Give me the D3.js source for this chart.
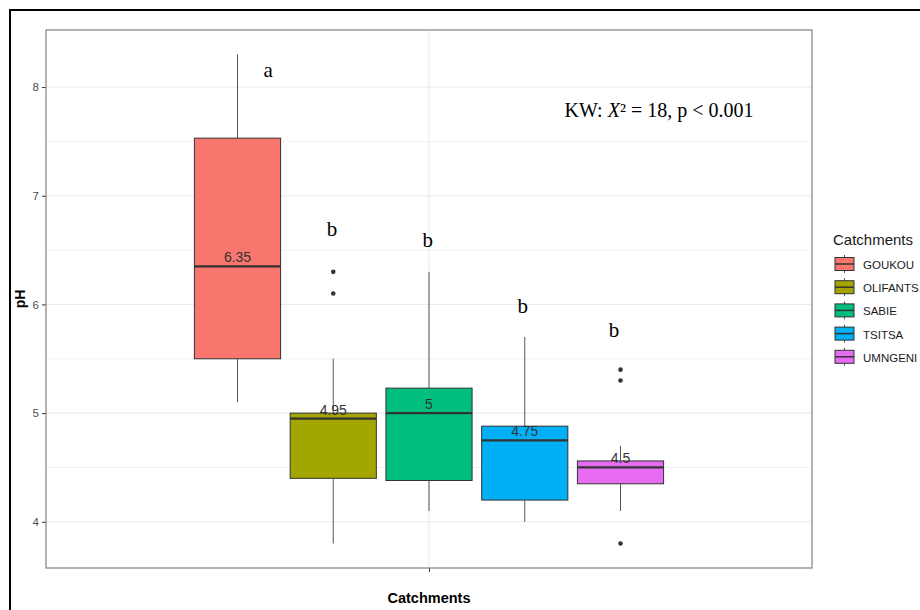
<!DOCTYPE html>
<html>
<head>
<meta charset="utf-8">
<script src="https://cdn.jsdelivr.net/npm/d3@7"></script>
<style>
  body { margin: 0; background: #fff; }
</style>
</head>
<body>
<div id="viz"></div>
<script>
"use strict";

// data
const catchments   = ["GOUKOU", "OLIFANTS", "SABIE", "TSITSA", "UMNGENI"];
const colors       = ["#F8766D", "#A3A500", "#00BF7D", "#00B0F6", "#E76BF3"];
const lowWhisker   = [5.1, 3.8, 4.1, 4.0, 4.1];
const q1           = [5.5, 4.4, 4.38, 4.2, 4.35];
const medians      = [6.35, 4.95, 5.0, 4.75, 4.5];
const q3           = [7.53, 5.0, 5.23, 4.88, 4.56];
const highWhisker  = [8.3, 5.5, 6.3, 5.7, 4.7];
const outliers     = [[], [6.3, 6.1], [], [], [5.4, 5.3, 3.8]];
const medianLabels = ["6.35", "4.95", "5", "4.75", "4.5"];
const letters      = ["a", "b", "b", "b", "b"];
const letterX      = [0.748, 0.848, 0.998, 1.147, 1.29];
const letterY      = [8.09, 6.63, 6.53, 5.92, 5.70];
const yTicks       = [4, 5, 6, 7, 8];
const yMinorTicks  = [4.5, 5.5, 6.5, 7.5];

function initChart(){

    let width = 920;
    let height = 610;
    let left = 46, right = 812, top = 30, bottom = 568;

    let svg = d3.select('#viz')
                .append('svg')
                .attr('width', width)
                .attr('height', height);

    // outer frame
    svg.append('rect')
       .attr('x', 10).attr('y', 10)
       .attr('width', 940).attr('height', 640)
       .attr('fill', 'none')
       .attr('stroke', '#000')
       .attr('stroke-width', 2);

    // x: one discrete position, dodged by catchment
    let xScale = d3.scaleLinear()
                   .domain([0.4, 1.6])
                   .range([left, right]);

    let band = d3.scaleBand()
                 .domain(catchments)
                 .range([xScale(0.625), xScale(1.375)])
                 .paddingInner(0.1)
                 .paddingOuter(0.05);

    let yScale = d3.scaleLinear()
                   .domain([3.575, 8.525])
                   .range([bottom, top]);

    // grid
    svg.selectAll('line.minor')
       .data(yMinorTicks)
       .enter()
       .append('line')
       .attr('x1', left).attr('x2', right)
       .attr('y1', d => yScale(d)).attr('y2', d => yScale(d))
       .attr('stroke', '#f2f2f2')
       .attr('stroke-width', 1);

    svg.selectAll('line.major')
       .data(yTicks)
       .enter()
       .append('line')
       .attr('x1', left).attr('x2', right)
       .attr('y1', d => yScale(d)).attr('y2', d => yScale(d))
       .attr('stroke', '#ebebeb')
       .attr('stroke-width', 1.1);

    svg.append('line')
       .attr('x1', xScale(1)).attr('x2', xScale(1))
       .attr('y1', top).attr('y2', bottom)
       .attr('stroke', '#ebebeb')
       .attr('stroke-width', 1.1);

    // y axis
    let yAxis = d3.axisLeft(yScale)
                  .tickValues(yTicks)
                  .tickSize(4)
                  .tickPadding(3)
                  .tickFormat(d3.format('d'));

    let gy = svg.append('g')
                .attr('transform', `translate(${left},0)`)
                .call(yAxis);
    gy.select('.domain').remove();
    gy.selectAll('line').attr('stroke', '#333');
    gy.selectAll('text')
      .attr('font-family', 'Liberation Sans, Arial, sans-serif')
      .attr('font-size', '11.5px')
      .attr('fill', '#4d4d4d');

    // x axis: single blank tick
    let xAxis = d3.axisBottom(xScale)
                  .tickValues([1])
                  .tickSize(4)
                  .tickFormat('');

    let gx = svg.append('g')
                .attr('transform', `translate(0,${bottom})`)
                .call(xAxis);
    gx.select('.domain').remove();
    gx.selectAll('line').attr('stroke', '#333');

    // boxes
    let boxes = svg.selectAll('g.box')
                   .data(catchments)
                   .enter()
                   .append('g')
                   .attr('class', 'box');

    boxes.append('rect')
         .attr('x', d => band(d))
         .attr('width', band.bandwidth())
         .attr('y', (d, i) => yScale(q3[i]))
         .attr('height', (d, i) => yScale(q1[i]) - yScale(q3[i]))
         .attr('fill', (d, i) => colors[i])
         .attr('stroke', '#333')
         .attr('stroke-width', 1);

    boxes.append('line')
         .attr('x1', d => band(d))
         .attr('x2', d => band(d) + band.bandwidth())
         .attr('y1', (d, i) => yScale(medians[i]))
         .attr('y2', (d, i) => yScale(medians[i]))
         .attr('stroke', '#333')
         .attr('stroke-width', 2.2);

    // median labels
    svg.selectAll('text.med')
       .data(catchments)
       .enter()
       .append('text')
       .text((d, i) => medianLabels[i])
       .attr('x', d => band(d) + band.bandwidth() / 2)
       .attr('y', (d, i) => yScale(medians[i]) - 4)
       .attr('text-anchor', 'middle')
       .attr('font-family', 'Liberation Sans, Arial, sans-serif')
       .attr('font-size', '14px')
       .attr('fill', '#333');

    // whiskers
    boxes.append('line')
         .attr('x1', d => band(d) + band.bandwidth() / 2)
         .attr('x2', d => band(d) + band.bandwidth() / 2)
         .attr('y1', (d, i) => yScale(q3[i]))
         .attr('y2', (d, i) => yScale(highWhisker[i]))
         .attr('stroke', '#555')
         .attr('stroke-width', 1);

    boxes.append('line')
         .attr('x1', d => band(d) + band.bandwidth() / 2)
         .attr('x2', d => band(d) + band.bandwidth() / 2)
         .attr('y1', (d, i) => yScale(q1[i]))
         .attr('y2', (d, i) => yScale(lowWhisker[i]))
         .attr('stroke', '#555')
         .attr('stroke-width', 1);

    // outliers
    boxes.selectAll('circle')
         .data((d, i) => outliers[i].map(v => ({ name: d, v: v })))
         .enter()
         .append('circle')
         .attr('cx', d => band(d.name) + band.bandwidth() / 2)
         .attr('cy', d => yScale(d.v))
         .attr('r', 2.3)
         .attr('fill', '#333');

    // panel border
    svg.append('rect')
       .attr('x', left).attr('y', top)
       .attr('width', right - left).attr('height', bottom - top)
       .attr('fill', 'none')
       .attr('stroke', '#808080')
       .attr('stroke-width', 1.2);

    // group letters
    svg.selectAll('text.letter')
       .data(letters)
       .enter()
       .append('text')
       .text(d => d)
       .attr('x', (d, i) => xScale(letterX[i]))
       .attr('y', (d, i) => yScale(letterY[i]))
       .attr('text-anchor', 'middle')
       .attr('font-family', 'Liberation Serif, Times New Roman, serif')
       .attr('font-size', '21px')
       .attr('fill', '#000');

    // Kruskal-Wallis annotation
    let kw = svg.append('text')
                .attr('x', 659)
                .attr('y', 117)
                .attr('text-anchor', 'middle')
                .attr('font-family', 'Liberation Serif, Times New Roman, serif')
                .attr('font-size', '20px')
                .attr('fill', '#000');
    kw.append('tspan').text('KW: ');
    kw.append('tspan').attr('font-style', 'italic').text('X');
    kw.append('tspan').text('\u00B2 = 18, p < 0.001');

    // axis titles
    svg.append('text')
       .text('Catchments')
       .attr('x', xScale(1))
       .attr('y', 603)
       .attr('text-anchor', 'middle')
       .attr('font-family', 'Liberation Sans, Arial, sans-serif')
       .attr('font-weight', 'bold')
       .attr('font-size', '14.5px')
       .attr('fill', '#000');

    svg.append('text')
       .text('pH')
       .attr('transform', `translate(25,${(top + bottom) / 2}) rotate(-90)`)
       .attr('text-anchor', 'middle')
       .attr('font-family', 'Liberation Sans, Arial, sans-serif')
       .attr('font-weight', 'bold')
       .attr('font-size', '14px')
       .attr('fill', '#000');

    // legend
    let lx = 835, ly = 264, step = 23.2;

    svg.append('text')
       .text('Catchments')
       .attr('x', 833)
       .attr('y', 245)
       .attr('font-family', 'Liberation Sans, Arial, sans-serif')
       .attr('font-size', '15px')
       .attr('fill', '#1a1a1a');

    let keys = svg.selectAll('g.key')
                  .data(catchments)
                  .enter()
                  .append('g')
                  .attr('transform', (d, i) => `translate(${lx},${ly + i * step})`);

    keys.append('line')
        .attr('x1', 9.5).attr('x2', 9.5)
        .attr('y1', -9).attr('y2', 9)
        .attr('stroke', '#555');

    keys.append('rect')
        .attr('x', 0).attr('y', -6.5)
        .attr('width', 19).attr('height', 13)
        .attr('fill', (d, i) => colors[i])
        .attr('stroke', '#333');

    keys.append('line')
        .attr('x1', 0).attr('x2', 19)
        .attr('y1', 0).attr('y2', 0)
        .attr('stroke', '#333')
        .attr('stroke-width', 1.5);

    keys.append('text')
        .text(d => d)
        .attr('x', 28)
        .attr('y', 5)
        .attr('font-family', 'Liberation Sans, Arial, sans-serif')
        .attr('font-size', '11.5px')
        .attr('fill', '#1a1a1a');
}

initChart();
</script>
</body>
</html>
